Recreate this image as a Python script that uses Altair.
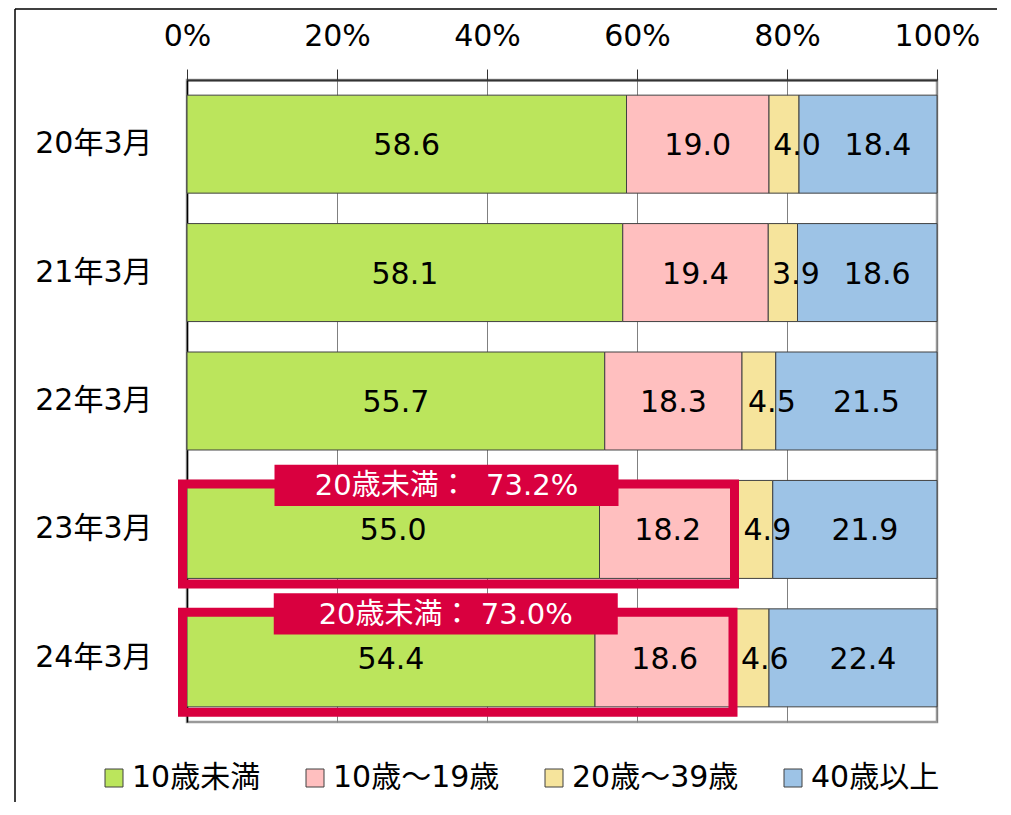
import altair as alt
import pandas as pd

months = ["20年3月", "21年3月", "22年3月", "23年3月", "24年3月"]
series = ["10歳未満", "10歳～19歳", "20歳～39歳", "40歳以上"]
colors = ["#BBE55C", "#FFBFBF", "#F6E49C", "#9DC3E6"]
v_under10 = [58.6, 58.1, 55.7, 55.0, 54.4]
v_10_19 = [19.0, 19.4, 18.3, 18.2, 18.6]
v_20_39 = [4.0, 3.9, 4.5, 4.9, 4.6]
v_40plus = [18.4, 18.6, 21.5, 21.9, 22.4]
x_ticks = [0, 20, 40, 60, 80, 100]
hl_months = ["23年3月", "24年3月"]
hl_totals = [73.2, 73.0]
hl_labels = ["20歳未満：\u00a0\u00a073.2%", "20歳未満：\u00a073.0%"]

FONT = "DejaVu Sans, Noto Sans CJK JP"
RED = "#D9003F"

rows = []
for i, m in enumerate(months):
    acc = 0.0
    for k, (s, vals) in enumerate(zip(series, [v_under10, v_10_19, v_20_39, v_40plus])):
        v = vals[i]
        rows.append({"month": m, "series": s, "idx": k, "value": v,
                     "start": acc, "end": acc + v, "mid": acc + v / 2,
                     "label": f"{v:.1f}"})
        acc += v
df = pd.DataFrame(rows)

hl = pd.DataFrame({"month": hl_months, "total": hl_totals, "label": hl_labels})
hl["start"] = 0.0
hl["mid"] = hl["total"] / 2

x_scale = alt.Scale(domain=[0, 100], nice=False, zero=True)
y_scale = alt.Scale(paddingInner=0.237, paddingOuter=0.118)

x_axis = alt.Axis(orient="top", values=x_ticks, labelExpr="datum.value + '%'",
                  title=None, grid=True, gridColor="#808080", gridWidth=1,
                  domainColor="#333333", domainWidth=2, tickColor="#333333",
                  tickSize=11, tickWidth=1, labelFont=FONT, labelFontSize=30,
                  labelColor="#000000", labelPadding=18, labelFlush=False,
                  labelOverlap=False, labelBound=False)
y_axis = alt.Axis(title=None, ticks=False, domain=True, domainColor="#000000",
                  domainWidth=1.5, labelFont=FONT, labelFontSize=30,
                  labelColor="#000000", labelPadding=35, grid=False)


def X(field):
    return alt.X(field, scale=x_scale, axis=x_axis)


Y = alt.Y("month:N", sort=months, scale=y_scale, axis=y_axis)

bars = alt.Chart(df).mark_bar(stroke="#404040", strokeWidth=1).encode(
    x=X("start:Q"),
    x2="end:Q",
    y=Y,
    color=alt.Color("series:N", sort=series,
                    scale=alt.Scale(domain=series, range=colors),
                    legend=alt.Legend(title=None, orient="none", legendX=-88, legendY=683,
                                      direction="horizontal", columns=4, symbolType="square",
                                      symbolSize=324, symbolStrokeColor="#404040",
                                      symbolStrokeWidth=1, symbolOpacity=1,
                                      labelFont=FONT, labelFontSize=30, labelColor="#000000",
                                      labelOffset=3, columnPadding=39, labelLimit=0,
                                      padding=0)),
)


def value_text(sel, dx):
    return alt.Chart(df).transform_filter(
        alt.FieldOneOfPredicate(field="series", oneOf=sel)
    ).mark_text(font=FONT, fontSize=30, color="#000000", baseline="middle", dx=dx, dy=2).encode(
        x=X("mid:Q"),
        y=Y,
        text="label:N",
    )


t1 = value_text(series[:2], 0)
t2 = value_text([series[2]], 13)
t3 = value_text([series[3]], 10)

hl_rect = alt.Chart(hl).mark_bar(fillOpacity=0, stroke=RED, strokeWidth=9, size=100,
                                 yOffset=4.5, xOffset=-4.5, x2Offset=-1.5).encode(
    x=X("start:Q"),
    x2="total:Q",
    y=Y,
)

box_path = "M-1,-0.12L1,-0.12L1,0.12L-1,0.12Z"
hl_box = alt.Chart(hl).mark_point(shape=box_path, size=344 * 344, filled=True, fill=RED,
                                  opacity=1, strokeWidth=0, xOffset=-15, yOffset=-44).encode(
    x=X("mid:Q"),
    y=Y,
)
hl_text = alt.Chart(hl).mark_text(font=FONT, fontSize=29, color="#FFFFFF", baseline="middle",
                                  dx=-15, dy=-43).encode(
    x=X("mid:Q"),
    y=Y,
    text="label:N",
)

one = pd.DataFrame({"a": [0]})
frame_top = alt.Chart(one).mark_rule(color="#000000", strokeWidth=1.5).encode(
    x=alt.value(-172), x2=alt.value(815), y=alt.value(-71))
frame_left = alt.Chart(one).mark_rule(color="#000000", strokeWidth=1.5).encode(
    x=alt.value(-172), y=alt.value(-71), y2=alt.value(730))

chart = alt.layer(bars, t1, t2, t3, hl_rect, hl_box, hl_text, frame_top, frame_left).properties(
    width=750, height=642,
    autosize=alt.AutoSizeParams(type="none"),
    padding={"left": 179, "top": 72, "right": 60, "bottom": 80},
).configure_view(stroke="#9A9A9A", strokeWidth=2.5)

chart.save("out.html", embed_options={"renderer": "svg", "actions": False})
